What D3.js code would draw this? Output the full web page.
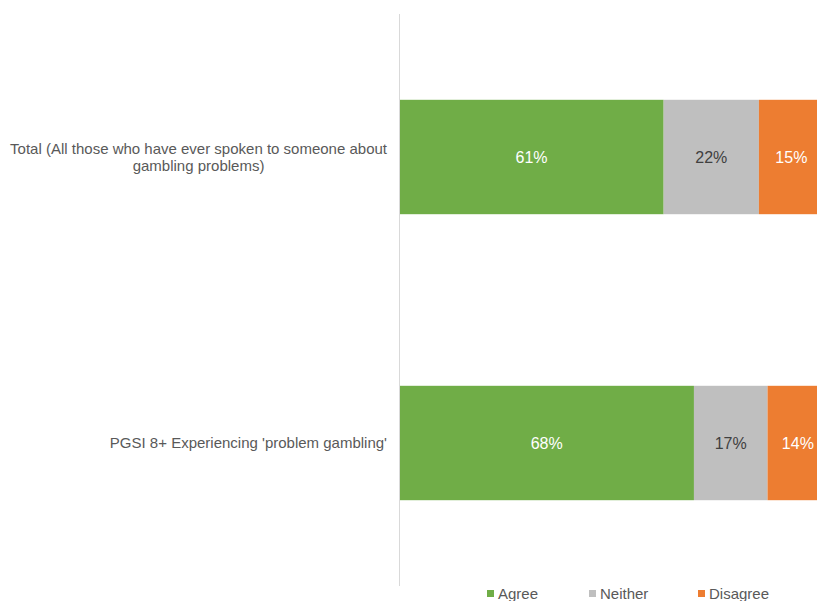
<!DOCTYPE html>
<html>
<head>
<meta charset="utf-8">
<script src="https://cdn.jsdelivr.net/npm/d3@7"></script>
<style>
  body { margin: 0; background: #fff; }
  svg { display: block; font-family: "Liberation Sans", Arial, sans-serif; }
</style>
</head>
<body>
<div id="chart"></div>
<script>
// data
const categories = [
  "Total (All those who have ever spoken to someone about gambling problems)",
  "PGSI 8+ Experiencing 'problem gambling'"
]
const labelLines = [
  ["Total (All those who have ever spoken to someone about", "gambling problems)"],
  ["PGSI 8+ Experiencing 'problem gambling'"]
]
const seriesNames = ["Agree", "Neither", "Disagree"]
const agree = [61, 68]
const neither = [22, 17]
const disagree = [15, 14]
const seriesColors = ["#70AD47", "#BFBFBF", "#ED7D31"]
const labelColors = ["#ffffff", "#404040", "#ffffff"]

const width = 817, height = 601

const svg = d3.select("#chart")
  .append("svg")
  .attr("width", width)
  .attr("height", height)

// plot area runs past the right edge like the cropped original
const x = d3.scaleLinear()
  .domain([0, 100])
  .range([399.5, 832.5])

const y = d3.scaleBand()
  .domain(categories)
  .range([14, 586])
  .paddingInner(0.6)
  .paddingOuter(0.3)

const rows = categories.map((c, i) => ({ cat: c, Agree: agree[i], Neither: neither[i], Disagree: disagree[i] }))
const stacked = d3.stack().keys(seriesNames)(rows)

// bars
const groups = svg.selectAll("g.series")
  .data(stacked)
  .join("g")
  .attr("class", "series")
  .attr("fill", (d, i) => seriesColors[i])

groups.selectAll("rect")
  .data(d => d)
  .join("rect")
  .attr("x", d => x(d[0]))
  .attr("y", d => y(d.data.cat))
  .attr("width", d => x(d[1]) - x(d[0]))
  .attr("height", y.bandwidth())

// value labels
groups.each(function (s, si) {
  d3.select(this).selectAll("text")
    .data(s)
    .join("text")
    .attr("x", d => (x(d[0]) + x(d[1])) / 2)
    .attr("y", d => y(d.data.cat) + y.bandwidth() / 2)
    .attr("dy", "0.36em")
    .attr("text-anchor", "middle")
    .attr("fill", labelColors[si])
    .style("font-size", "16px")
    .text(d => (d[1] - d[0]) + "%")
})

// vertical axis line
svg.append("line")
  .attr("x1", x(0)).attr("x2", x(0))
  .attr("y1", 14).attr("y2", 586)
  .attr("stroke", "#D9D9D9")
  .attr("stroke-width", 1)

// category labels, lines centred inside a right aligned block
categories.forEach((c, i) => {
  const lines = labelLines[i]
  const g = svg.append("g")
  const cy = y(c) + y.bandwidth() / 2
  const lh = 17
  const texts = g.selectAll("text")
    .data(lines)
    .join("text")
    .attr("y", (d, j) => cy + (j - (lines.length - 1) / 2) * lh)
    .attr("dy", "0.36em")
    .attr("text-anchor", "middle")
    .attr("fill", "#595959")
    .style("font-size", "15px")
    .text(d => d)
  let maxW = 0
  texts.each(function () { maxW = Math.max(maxW, this.getComputedTextLength()) })
  texts.attr("x", 387 - maxW / 2)
})

// legend
const legendX = [487, 589, 698]
const legend = svg.selectAll("g.legend")
  .data(seriesNames)
  .join("g")
  .attr("class", "legend")
  .attr("transform", (d, i) => `translate(${legendX[i]},590)`)

legend.append("rect")
  .attr("width", 7)
  .attr("height", 7)
  .attr("fill", (d, i) => seriesColors[i])

legend.append("text")
  .attr("x", 11)
  .attr("y", 3.5)
  .attr("dy", "0.36em")
  .attr("fill", "#595959")
  .style("font-size", "15px")
  .text(d => d)
</script>
</body>
</html>
